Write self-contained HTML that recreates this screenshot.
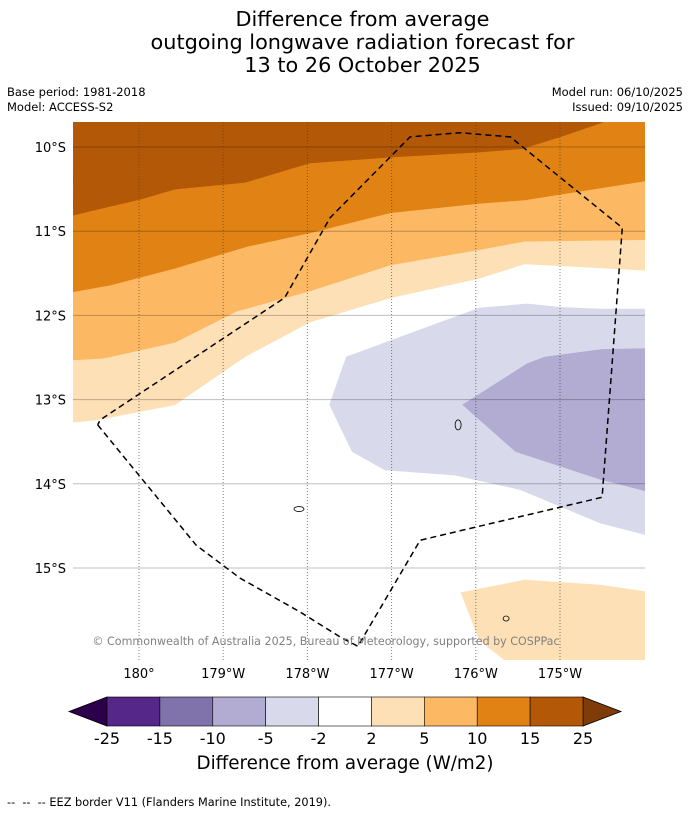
<!DOCTYPE html>
<html><head><meta charset="utf-8"><style>
body{margin:0;background:#fff;font-family:"Liberation Sans","DejaVu Sans",sans-serif;}
#wrap{position:relative;width:690px;height:816px;overflow:hidden;}
.t{position:absolute;white-space:nowrap;}
</style></head><body>
<div id="wrap">
<div class="t" style="left:0;width:725px;top:8px;text-align:center;font-size:20.8px;line-height:23px;font-family:'DejaVu Sans',sans-serif;">Difference from average<br>outgoing longwave radiation forecast for<br>13 to 26 October 2025</div>
<div class="t" style="left:7px;top:85px;font-size:11.5px;line-height:15px;font-family:'DejaVu Sans',sans-serif;">Base period: 1981-2018<br>Model: ACCESS-S2</div>
<div class="t" style="right:7px;top:85px;font-size:11.5px;line-height:15px;text-align:right;font-family:'DejaVu Sans',sans-serif;">Model run: 06/10/2025<br>Issued: 09/10/2025</div>
<svg id="svg" width="690" height="816" style="position:absolute;left:0;top:0" font-family="DejaVu Sans, sans-serif"></svg>
<div class="t" style="left:0;width:690px;top:753px;text-align:center;font-size:18.3px;font-family:'DejaVu Sans',sans-serif;">Difference from average (W/m2)</div>
<div class="t" style="left:7px;top:796px;font-size:11.3px;font-family:'DejaVu Sans',sans-serif;">-- &nbsp;-- &nbsp;-- EEZ border V11 (Flanders Marine Institute, 2019).</div>
</div>
<script>
// lon in degrees east (180..186), lat negative south
const b2_5 = [[179.22,-13.27],[179.51,-13.24],[180.43,-13.06],[181.26,-12.49],[182.03,-12.08],[182.99,-11.79],[184.04,-11.56],[184.58,-11.39],[185.0,-11.41],[186.1,-11.47]];
const b5_10 = [[179.22,-12.53],[179.58,-12.51],[180.43,-12.32],[181.16,-11.95],[182.03,-11.71],[182.99,-11.40],[184.04,-11.22],[184.58,-11.12],[186.1,-11.10]];
const b10_15 = [[179.22,-11.72],[179.66,-11.64],[180.43,-11.44],[181.02,-11.26],[181.29,-11.18],[182.03,-11.02],[182.99,-10.78],[184.04,-10.67],[184.58,-10.63],[186.1,-10.39]];
const b15_25 = [[179.22,-10.81],[179.51,-10.74],[180.02,-10.62],[180.43,-10.50],[181.26,-10.42],[182.03,-10.19],[182.99,-10.12],[184.04,-10.06],[184.55,-10.02],[185.0,-9.88],[185.5,-9.71],[185.7,-9.5]];
const neg2_5 = [[182.46,-12.49],[182.26,-13.06],[182.53,-13.62],[182.92,-13.84],[183.75,-13.90],[184.52,-14.07],[185.48,-14.47],[186.1,-14.63],[186.1,-11.92],[185.48,-11.92],[185.0,-11.90],[184.61,-11.86],[184.04,-11.91]];
const neg5_10 = [[183.84,-13.06],[184.47,-13.62],[185.48,-13.95],[186.1,-14.11],[186.1,-12.39],[185.5,-12.40],[184.82,-12.49],[184.61,-12.57]];
const pos2_5b = [[183.82,-15.29],[184.04,-15.86],[184.47,-16.2],[186.1,-16.2],[186.1,-15.29],[185.48,-15.20],[184.58,-15.14]];
const eez = [[179.51,-13.30],[180.68,-14.73],[181.20,-15.12],[181.91,-15.52],[182.39,-15.82],[182.60,-15.93],[183.34,-14.67],[185.50,-14.16],[185.74,-10.96],[184.41,-9.88],[183.81,-9.83],[183.22,-9.88],[182.27,-10.84],[181.73,-11.79],[179.54,-13.24],[179.51,-13.30]];
const lonTicks = [180,181,182,183,184,185];
const lonLabels = ["180°","179°W","178°W","177°W","176°W","175°W"];
const latTicks = [-10,-11,-12,-13,-14,-15];
const latLabels = ["10°S","11°S","12°S","13°S","14°S","15°S"];
const cbLevels = ["-25","-15","-10","-5","-2","2","5","10","15","25"];
const cbColors = ["#542788","#8073ac","#b2abd2","#d8daeb","#ffffff","#fee0b6","#fdb863","#e08214","#b35806"];

const X = lon => 139 + (lon-180)*84.2;
const Y = lat => 147 + (-10-lat)*84.2;
const NS="http://www.w3.org/2000/svg";
const svg=document.getElementById('svg');
function mk(tag,attrs,parent){const e=document.createElementNS(NS,tag);for(const k in attrs)e.setAttribute(k,attrs[k]);(parent||svg).appendChild(e);return e;}
const defs=mk('defs',{});
const cp=mk('clipPath',{id:'mapclip'},defs);
mk('rect',{x:73,y:122,width:572,height:538},cp);
const g=mk('g',{'clip-path':'url(#mapclip)'});


mk('rect',{x:73,y:122,width:572,height:538,fill:'#fff'},g);
function pts(a){return a.map(p=>X(p[0]).toFixed(1)+','+Y(p[1]).toFixed(1)).join(' ');}
function above(b,color,name){
  const a=b.slice();
  const last=a[a.length-1], first=a[0];
  const s=pts(a)+' '+X(last[0])+','+60+' '+X(first[0])+','+60;
  const p=mk('polygon',{points:s,fill:color,stroke:color,'stroke-width':0.5},g);
  
  
}
above(b2_5,'#fee0b6','band-2-5');
above(b5_10,'#fdb863','band-5-10');
above(b10_15,'#e08214','band-10-15');
above(b15_25,'#b35806','band-15-25');
function poly(a,color,name){const p=mk('polygon',{points:pts(a),fill:color},g);
  
  }
poly(neg2_5,'#d8daeb','band-neg2-neg5');
poly(neg5_10,'#b2abd2','band-neg5-neg10');
poly(pos2_5b,'#fee0b6','band-2-5-south');
latTicks.forEach((t,i)=>{
  const l=mk('line',{x1:73,x2:645,y1:Y(t),y2:Y(t),stroke:'#000','stroke-opacity':0.25,'stroke-width':1},g);
  
  
  const tx=mk('text',{x:66,y:Y(t)+5,'text-anchor':'end','font-size':13});
  tx.textContent=latLabels[i];
  
  
});
lonTicks.forEach((t,i)=>{
  const l=mk('line',{x1:X(t),x2:X(t),y1:122,y2:660,stroke:'#444','stroke-opacity':0.7,'stroke-width':1,'stroke-dasharray':'1,2'},g);
  
  
  const tx=mk('text',{x:X(t),y:678,'text-anchor':'middle','font-size':13});
  tx.textContent=lonLabels[i];
  
  
});
[[183.79,-13.30,3,5],[181.9,-14.3,5,2.5],[184.36,-15.6,3,2.5]].forEach(d=>{
  const e=mk('ellipse',{cx:X(d[0]),cy:Y(d[1]),rx:d[2],ry:d[3],fill:'none',stroke:'#000','stroke-width':0.8},g);
  
  
});
const ez=mk('polyline',{points:pts(eez),fill:'none',stroke:'#000','stroke-width':1.5,'stroke-dasharray':'6,4'},g);


const cr=mk('text',{x:326,y:645,'text-anchor':'middle','font-size':11.1,fill:'#808080'},g);
cr.textContent='© Commonwealth of Australia 2025, Bureau of Meteorology, supported by COSPPac';


const cb0=107, cbW=(583-107)/cbColors.length, cy0=697, cy1=726;
const lt=mk('polygon',{points:`${cb0},${cy0} 69,${(cy0+cy1)/2} ${cb0},${cy1}`,fill:'#2d004b',stroke:'#000','stroke-width':0.8});


const rt=mk('polygon',{points:`583,${cy0} 621,${(cy0+cy1)/2} 583,${cy1}`,fill:'#7f3b08',stroke:'#000','stroke-width':0.8});


cbColors.forEach((c,i)=>{
  const r=mk('rect',{x:cb0+i*cbW,y:cy0,width:cbW,height:cy1-cy0,fill:c,stroke:'#000','stroke-width':0.6});
  
  
});
cbLevels.forEach((v,i)=>{
  const t=mk('text',{x:cb0+i*cbW,y:744,'text-anchor':'middle','font-size':16});
  t.textContent=v;
  
  
});
</script>
</body></html>
